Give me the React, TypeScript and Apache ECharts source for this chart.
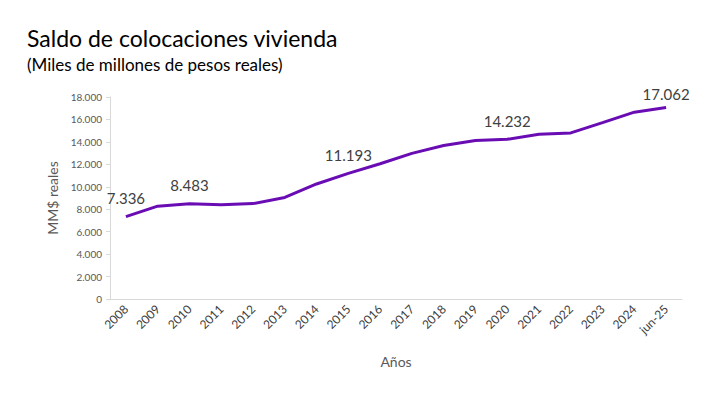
import React, { useEffect, useRef } from "react";
import * as echarts from "echarts";

const categories = ["2008", "2009", "2010", "2011", "2012", "2013", "2014", "2015", "2016", "2017", "2018", "2019", "2020", "2021", "2022", "2023", "2024", "jun-25"];
const values = [7336, 8270, 8483, 8400, 8500, 9050, 10250, 11193, 12050, 12980, 13680, 14130, 14232, 14680, 14800, 15720, 16650, 17062];
const labeledIndices = [0, 2, 7, 12, 17];
const yTicks = { min: 0, max: 18000, interval: 2000 };

const FONT = "Lato, 'Open Sans', sans-serif";

function fmt(v: number) {
  return String(v).replace(/\B(?=(\d{3})+(?!\d))/g, ".");
}

export default function App() {
  const ref = useRef<HTMLDivElement>(null);
  useEffect(() => {
    if (!ref.current) return;
    const chart = echarts.init(ref.current, undefined, { renderer: "svg" });
    const last = values.length - 1;
    chart.setOption({
      animation: false,
      backgroundColor: "#ffffff",
      textStyle: { fontFamily: FONT },
      title: [
        { text: "Saldo de colocaciones vivienda", left: 14, top: 13, textStyle: { fontFamily: FONT, fontSize: 23, fontWeight: "normal", color: "#000000" } },
        { text: "(Miles de millones de pesos reales)", left: 14, top: 43, textStyle: { fontFamily: FONT, fontSize: 17, fontWeight: "normal", color: "#000000" } },
      ],
      grid: { left: 102, right: 31, top: 89, bottom: 88 },
      xAxis: {
        type: "category",
        data: categories,
        boundaryGap: true,
        name: "Años",
        nameLocation: "middle",
        nameGap: 55,
        nameTextStyle: { fontFamily: FONT, fontSize: 14, color: "#595959" },
        axisLine: { lineStyle: { color: "#d9d9d9" } },
        axisTick: { show: false },
        axisLabel: { rotate: 45, interval: 0, fontFamily: FONT, fontSize: 12, color: "#404040", margin: 8 },
      },
      yAxis: {
        type: "value",
        min: yTicks.min,
        max: yTicks.max,
        interval: yTicks.interval,
        name: "MM$ reales",
        nameLocation: "middle",
        nameGap: 51,
        nameTextStyle: { fontFamily: FONT, fontSize: 14, color: "#595959" },
        axisLine: { show: true, lineStyle: { color: "#d9d9d9" } },
        axisTick: { show: true, length: 4, lineStyle: { color: "#d9d9d9" } },
        splitLine: { show: false },
        axisLabel: { fontFamily: FONT, fontSize: 10, color: "#595959", formatter: (v: number) => fmt(v), margin: 8 },
      },
      series: [
        {
          type: "line",
          data: values.map((v, i) => (i === last ? { value: v, label: { distance: 5 } } : v)),
          symbol: "circle",
          symbolSize: 2,
          showSymbol: true,
          itemStyle: { color: "transparent", borderWidth: 0 },
          lineStyle: { color: "#6a0cb4", width: 3 },
          label: {
            show: true,
            position: "top",
            distance: 10,
            formatter: (p: any) => (labeledIndices.includes(p.dataIndex) ? fmt(p.value) : ""),
            fontFamily: FONT,
            fontSize: 15,
            color: "#404040",
          },
          labelLayout: { hideOverlap: false },
        },
      ],
    });
    return () => chart.dispose();
  }, []);
  return <div ref={ref} style={{ width: 705, height: 379 }} />;
}
